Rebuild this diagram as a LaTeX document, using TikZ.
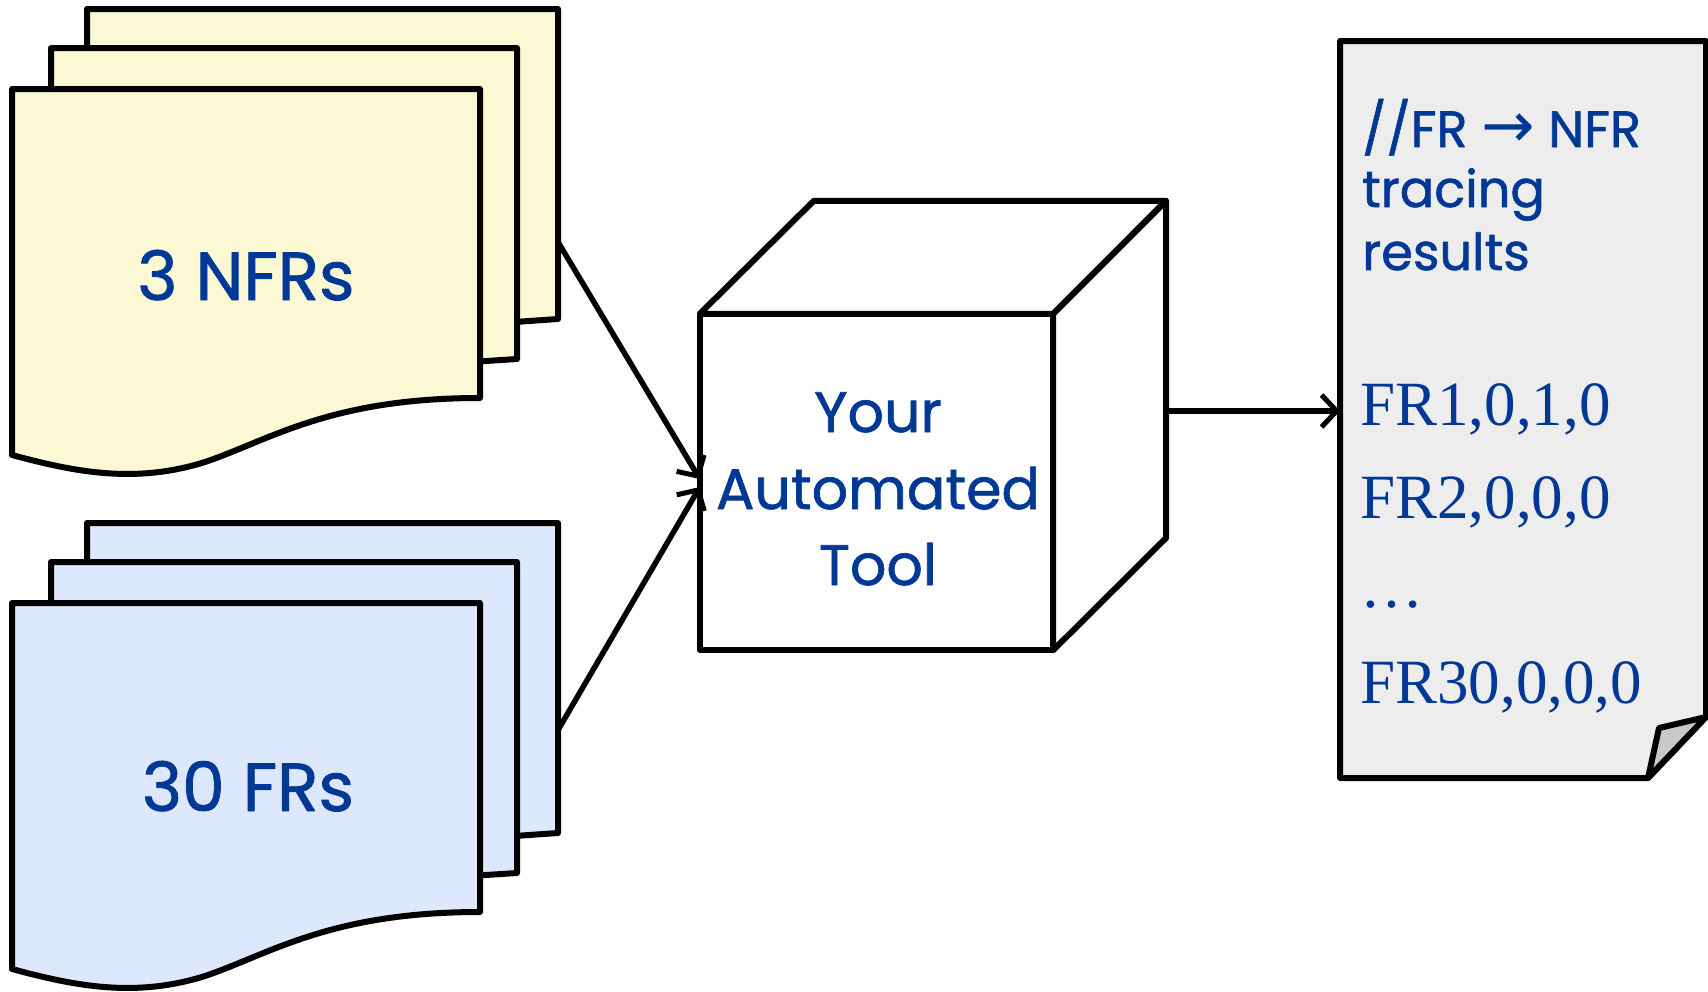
\documentclass[tikz,border=0pt]{standalone}
\usepackage{fontspec}
\setmainfont{Liberation Serif}
\newfontfamily\handfont[FakeBold=1.2]{Poppins}
\newfontfamily\symfont{DejaVu Sans}
\usetikzlibrary{arrows.meta}
\definecolor{inkblue}{RGB}{0,56,150}
\definecolor{nfrfill}{RGB}{251,249,212}
\definecolor{frfill}{RGB}{221,232,253}
\definecolor{docfill}{RGB}{237,237,237}
\definecolor{foldfill}{RGB}{200,200,200}

% a stack of three wavy-bottomed sheets, shifted down by #1
\newcommand\sheetstack[2]{%
  \begin{scope}[shift={(0,#1)}]
    \path[sheet=#2] (87,9) -- (558,9) -- (558,319) -- (500,323) -- (87,323) -- cycle;
    \path[sheet=#2] (51,48) -- (517,48) -- (517,359) -- (470,362) -- (51,362) -- cycle;
    \path[sheet=#2] (12,89) -- (480,89) -- (480,398)
      .. controls (330,398) and (270,440) .. (205,462)
      .. controls (135,484) and (75,472) .. (12,455) -- cycle;
  \end{scope}}

\begin{document}
\begin{tikzpicture}[x=1pt,y=-1pt,line join=round,
  outline/.style={draw=black,line width=6pt},
  sheet/.style={outline,fill=#1},
  hand/.style={text=inkblue,inner sep=0pt,font=\handfont\fontsize{#1}{#1}\selectfont},
  serif/.style={text=inkblue,inner sep=0pt,anchor=base west,font=\fontsize{63}{63}\selectfont},
  flow/.style={draw=black,line width=5.5pt,
    -{Straight Barb[length=15pt,width=32pt,line width=5pt]}}
]
\useasboundingbox (0,0) rectangle (1708,991);

\sheetstack{0}{nfrfill}
\sheetstack{514}{frfill}
\node[hand=68,anchor=base] (nfr) at (246,300) {3 NFRs};
\node[hand=68,anchor=base] (fr) at (248,811) {30 FRs};
\coordinate (nfrout) at (558,242);
\coordinate (frout) at (558,730);

% the tool, drawn as a cube: top and side faces, then the front face
\node[minimum width=353pt,minimum height=336pt,inner sep=0pt]
  (face) at (876.5,482) {};
\path[outline,fill=white] (face.north west) -- ++(114,-113) -- ++(352,0)
  -- (face.north east) -- cycle;
\path[outline,fill=white] (face.north east) -- ++(113,-113) -- ++(0,337)
  -- (face.south east) -- cycle;
\path[outline,fill=white] (face.south west) rectangle (face.north east);
\coordinate (toolout) at (1166,411);
\node[hand=57,anchor=base] (t1) at (878,432) {Your};
\node[hand=57,anchor=base] (t2) at (878,509) {Automated};
\node[hand=57,anchor=base] (t3) at (878,585) {Tool};

% the output file with a turned-down corner
\coordinate (doctl) at (1340,41);
\path[outline,fill=docfill] (doctl) -- (1706,41) -- (1706,717) -- (1648,778)
  -- (1340,778) -- cycle;
\path[outline,fill=foldfill] (1648,778) -- (1659,728) -- (1706,717) -- cycle;
\coordinate (docin) at (1340,411);

\node[hand=51,anchor=base west] (h1) at (1362,147)
  {//FR {\symfont\fontsize{64}{64}\selectfont→} NFR};
\node[hand=51,anchor=base west] (h2) at (1362,207) {tracing};
\node[hand=51,anchor=base west] (h3) at (1362,270) {results};
\node[serif] (r1) at (1360,425) {FR1,0,1,0};
\node[serif] (r2) at (1360,518) {FR2,0,0,0};
\node[serif] (r3) at (1360,607) {…};
\node[serif] (r4) at (1360,703) {FR30,0,0,0};

% connectors
\draw[flow] (nfrout) -- ([yshift=3pt]face.west);
\draw[flow] (frout) -- ([yshift=-5pt]face.west);
\draw[flow] (toolout) -- (docin);
\end{tikzpicture}
\end{document}
